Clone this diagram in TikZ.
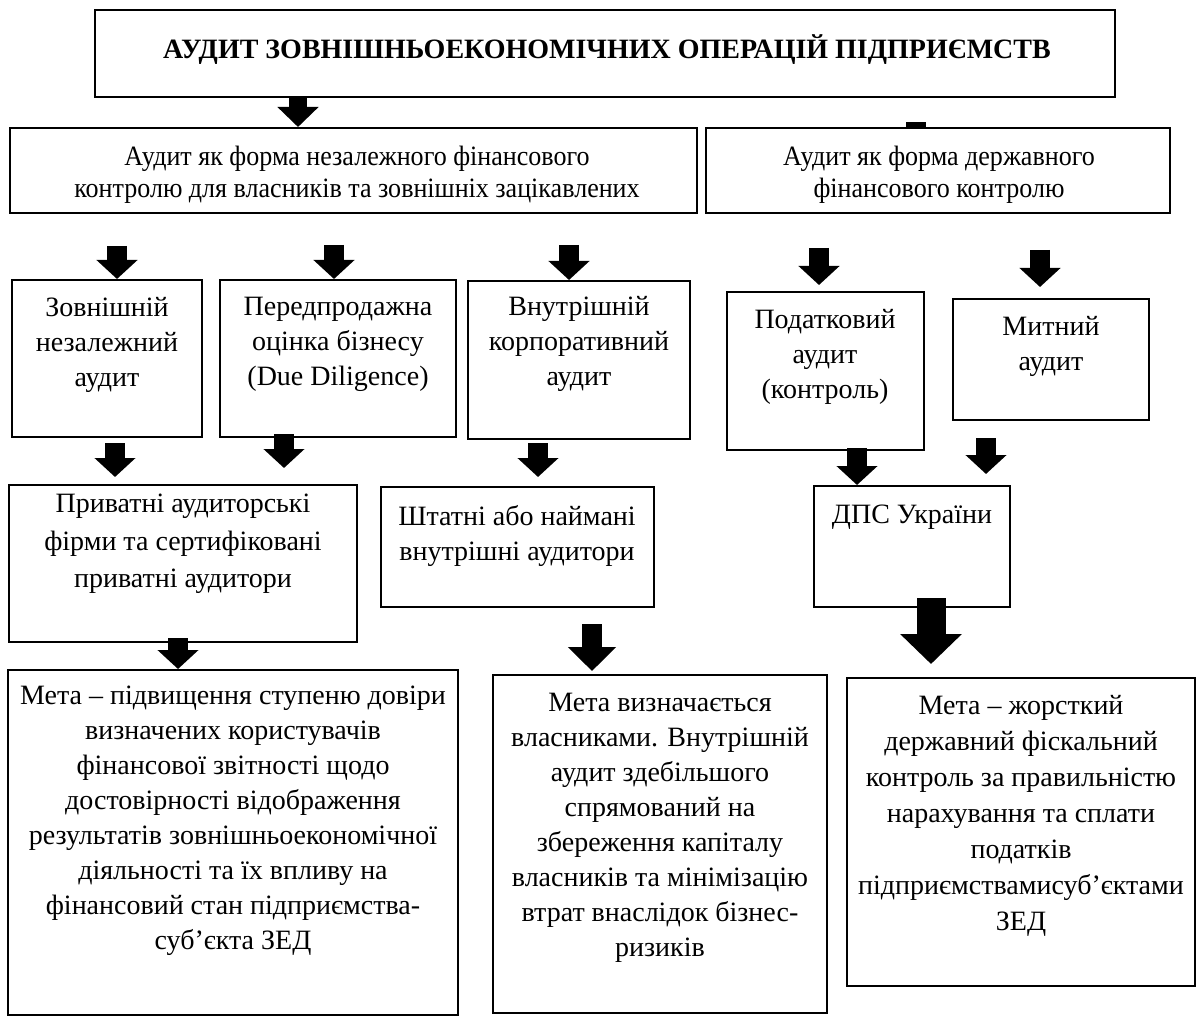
\documentclass[tikz,border=0pt]{standalone}
\usepackage{fontspec}
\setmainfont{Liberation Serif}
\newfontfamily\narrowserif[FakeStretch=0.93]{Liberation Serif}
\usetikzlibrary{arrows.meta,fit}
\tikzset{
  box/.style={draw, line width=1pt, inner sep=0pt},
  txt/.style={align=center, inner sep=0pt, anchor=north, font=\fontsize{14}{17.5}\selectfont},
  blk/.style={line width=10pt, -{Triangle[width=20pt,length=9.5pt]}},
}
\begin{document}
\begin{tikzpicture}[x=0.5pt,y=-0.5pt]
      \useasboundingbox (0,0) rectangle (1199,1016);
      \node[box, fit={(95,10) (1115,97)}] (top) {};
      \node[box, fit={(10,128) (697,213)}] (l2l) {};
      \node[box, fit={(706,128) (1170,213)}] (l2r) {};
      \node[box, fit={(12,280) (202,437)}] (b1) {};
      \node[box, fit={(220,280) (456,437)}] (b2) {};
      \node[box, fit={(468,281) (690,439)}] (b3) {};
      \node[box, fit={(727,292) (924,450)}] (b4) {};
      \node[box, fit={(953,299) (1149,420)}] (b5) {};
      \node[box, fit={(9,485) (357,642)}] (c1) {};
      \node[box, fit={(381,487) (654,607)}] (c2) {};
      \node[box, fit={(814,486) (1010,607)}] (c3) {};
      \node[box, fit={(8,670) (458,1015)}] (d1) {};
      \node[box, fit={(493,675) (827,1013)}] (d2) {};
      \node[box, fit={(847,678) (1195,986)}] (d3) {};

      \node[txt, anchor=center, font=\fontsize{14}{17.5}\selectfont\bfseries] (topt) at (607,50)
        {АУДИТ ЗОВНІШНЬОЕКОНОМІЧНИХ ОПЕРАЦІЙ ПІДПРИЄМСТВ};
      \node[txt, font=\fontsize{14}{16}\selectfont\narrowserif] (l2lt) at (357,146)
        {Аудит як форма незалежного фінансового\\контролю для власників та зовнішніх зацікавлених};
      \node[txt, font=\fontsize{14}{16}\selectfont\narrowserif] (l2rt) at (939,146)
        {Аудит як форма державного\\фінансового контролю};
      \node[txt] (b1t) at (107,297) {Зовнішній\\незалежний\\аудит};
      \node[txt] (b2t) at (338,297) {Передпродажна\\оцінка бізнесу\\(Due Diligence)};
      \node[txt] (b3t) at (579,296) {Внутрішній\\корпоративний\\аудит};
      \node[txt] (b4t) at (825,309) {Податковий\\аудит\\(контроль)};
      \node[txt] (b5t) at (1051,316) {Митний\\аудит};
      \node[txt, font=\fontsize{14}{18.75}\selectfont] (c1t) at (183,494)
        {Приватні аудиторські\\фірми та сертифіковані\\приватні аудитори};
      \node[txt] (c2t) at (517,505) {Штатні або наймані\\внутрішні аудитори};
      \node[txt] (c3t) at (912,505) {ДПС України};
      \node[txt] (d1t) at (233,686)
        {Мета – підвищення ступеню довіри\\визначених користувачів\\фінансової звітності щодо\\достовірності відображення\\результатів зовнішньоекономічної\\діяльності та їх впливу на\\фінансовий стан підприємства-\\суб’єкта ЗЕД};
      \node[txt] (d2t) at (660,693)
        {Мета визначається\\власниками. Внутрішній\\аудит здебільшого\\спрямований на\\збереження капіталу\\власників та мінімізацію\\втрат внаслідок бізнес-\\ризиків};
      \node[txt, font=\fontsize{14}{18}\selectfont] (d3t) at (1021,695)
        {Мета – жорсткий\\державний фіскальний\\контроль за правильністю\\нарахування та сплати\\податків\\підприємствамисуб’єктами\\ЗЕД};

      \begin{scope}[blk]
        \draw[line width=9pt, -{Triangle[width=20pt,length=10pt]}] (top.south -| 298,0) -- (l2l.north -| 298,0);
        \draw (l2l.south -| 117,0) ++(0,32) -- (b1.north -| 117,0);
        \draw (l2l.south -| 334,0) ++(0,31) -- (b2.north -| 334,0);
        \draw (l2l.south -| 569,0) ++(0,31) -- (b3.north -| 569,0);
        \draw[shorten >=3pt] (l2r.south -| 819,0) ++(0,34) -- (b4.north -| 819,0);
        \draw[shorten >=5.5pt] (l2r.south -| 1040,0) ++(0,36) -- (b5.north -| 1040,0);
        \draw[shorten >=3.5pt] (b1.south -| 115,0) ++(0,5) -- (c1.north -| 115,0);
        \draw[shorten >=8pt] (b2.south -| 284,0) ++(0,-4) -- (c1.north -| 284,0);
        \draw[shorten >=4.5pt] (b3.south -| 538,0) ++(0,3) -- (c2.north -| 538,0);
        \draw (b4.south -| 857,0) ++(0,-3) -- (c3.north -| 857,0);
        \draw[shorten >=5.5pt] (b5.south -| 986,0) ++(0,17) -- (c3.north -| 986,0);
        \draw (c1.south -| 178,0) ++(0,-5) -- (d1.north -| 178,0);
        \draw[shorten >=1.5pt, -{Triangle[width=23.5pt,length=12pt]}] (c2.south -| 592,0) ++(0,16) -- (d2.north -| 592,0);
        \draw[shorten >=6.5pt, line width=14.5pt, -{Triangle[width=30pt,length=15pt]}] (c3.south -| 931,0) ++(0,-10) -- (d3.north -| 931,0);
      \end{scope}
      \fill (l2r.north -| 906,0) rectangle ++(20,-5);
    \end{tikzpicture}
\end{document}
